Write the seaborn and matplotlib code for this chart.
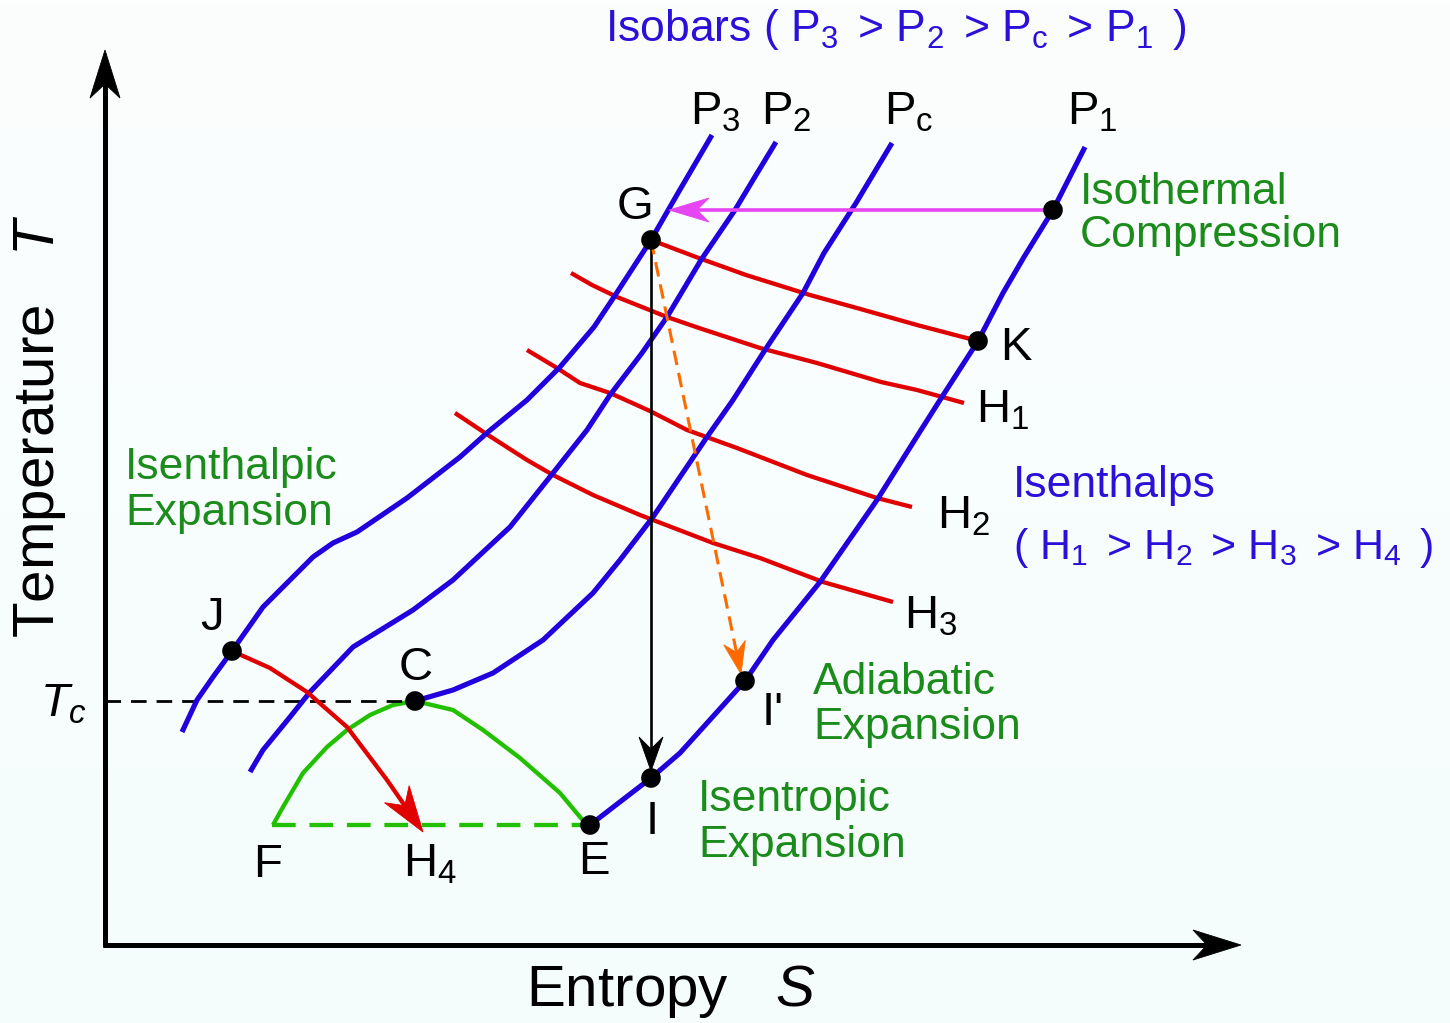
import numpy as np
import pandas as pd
import matplotlib
matplotlib.use("Agg")
import matplotlib.pyplot as plt
from matplotlib.patches import Polygon
from matplotlib.colors import LinearSegmentedColormap
import seaborn as sns

# ---------------------------------------------------------------
# T-S diagram data (entropy S, temperature T in diagram units)
# ---------------------------------------------------------------
# Isobars
P3_S = [182, 197, 213, 232, 263, 283, 313, 333, 357, 407, 460, 488, 527, 560, 594, 614, 651, 678, 712]
P3_T = [291, 323, 346, 372, 416, 436, 466, 480, 491, 525, 566, 591, 623, 656, 696, 726, 783, 830, 888]
P2_S = [250, 263, 290, 310, 353, 413, 453, 510, 553, 587, 610, 642, 667, 701, 735, 753, 776]
P2_T = [251, 273, 306, 331, 376, 413, 443, 496, 550, 593, 628, 670, 706, 763, 813, 843, 881]
PC_S = [415, 453, 493, 543, 593, 620, 653, 707, 733, 765, 803, 824, 856, 892]
PC_T = [322, 333, 350, 383, 430, 463, 506, 586, 623, 673, 730, 770, 820, 880]
P1_S = [590, 651, 680, 745, 773, 820, 877, 921, 940, 978, 1003, 1024, 1053, 1085]
P1_T = [198, 245, 270, 342, 383, 441, 523, 593, 623, 682, 730, 766, 813, 876]

# Isenthalps
HG_S = [651, 696, 746, 810, 864, 917, 978]
HG_T = [783, 766, 748, 728, 713, 698, 682]
H1_S = [571, 592, 617, 667, 699, 760, 817, 881, 917, 964]
H1_T = [750, 738, 726, 706, 695, 675, 660, 641, 633, 620]
H2_S = [527, 557, 580, 610, 650, 687, 737, 807, 877, 912]
H2_T = [673, 655, 640, 630, 612, 593, 575, 548, 525, 516]
H3_S = [455, 488, 527, 553, 593, 640, 713, 760, 823, 893]
H3_T = [610, 588, 563, 548, 528, 508, 480, 465, 441, 421]

# Isenthalpic expansion J -> H4
JH4_S = [232, 270, 307, 347, 387, 423]
JH4_T = [372, 355, 331, 296, 243, 191]

# Two-phase dome (F -> C -> E)
DOME_S = [273, 283, 303, 327, 347, 370, 393, 415, 453, 483, 520, 560, 585]
DOME_T = [198, 216, 250, 276, 293, 308, 318, 322, 313, 293, 265, 230, 200]

# Tie line F-E and critical temperature
TIE_S = [272, 590]
TIE_T = [198, 198]
TC_S = [105, 415]
TC_T = [322, 322]

# State points
POINT_NAMES = ["G", "K", "A", "J", "C", "E", "I", "I'"]
POINT_S = [651, 978, 1053, 232, 415, 590, 651, 745]
POINT_T = [783, 682, 813, 372, 322, 198, 245, 342]

# Processes
ISOTHERMAL = [(1053, 813), (669, 813)]
ISENTROPIC = [(651, 783), (651, 252)]
ADIABATIC = [(651, 783), (741, 349)]

# Axes (origin, top of T axis, end of S axis)
ORIGIN = (105, 78)
T_TIP = (105, 973)
S_TIP = (1241, 78)

# ---------------------------------------------------------------
BLUE = "#2200dd"
BLUE_TEXT = "#2a10d8"
RED = "#e00000"
GREEN_LINE = "#22c000"
GREEN_TEXT = "#1b8c1b"
MAGENTA = "#e545f2"
ORANGE = "#ff6a00"

sns.set_style("white")
plt.rcParams["font.family"] = ["Liberation Sans", "DejaVu Sans"]
plt.rcParams["text.color"] = "black"
plt.rcParams["mathtext.fontset"] = "custom"
plt.rcParams["mathtext.rm"] = "Liberation Sans"
plt.rcParams["mathtext.it"] = "Liberation Sans:italic"
plt.rcParams["mathtext.bf"] = "Liberation Sans:bold"

fig = plt.figure(figsize=(14.5, 10.23), dpi=100)
ax = fig.add_axes([0, 0, 1, 1])

# pale background
bg = LinearSegmentedColormap.from_list("bg", ["#fcfefe", "#f4fdfc"])
ax.imshow(np.linspace(1, 0, 256)[:, None], extent=[0, 1450, 0, 1023], origin="lower",
          cmap=bg, aspect="auto", zorder=0)


def stealth_head(tail, tip, length, half_width, notch, color, z=4):
    tail = np.asarray(tail, float)
    tip = np.asarray(tip, float)
    d = tip - tail
    d /= np.hypot(*d)
    n = np.array([-d[1], d[0]])
    base = tip - d * length
    pts = [tip, base + n * half_width, tip - d * notch, base - n * half_width]
    ax.add_patch(Polygon(pts, closed=True, fc=color, ec=color, lw=0.6, zorder=z))
    return tip - d * notch


def curve(s, t, color, lw, z=2, dashes=None):
    sns.lineplot(x=s, y=t, sort=False, estimator=None, color=color, linewidth=lw,
                 ax=ax, zorder=z, solid_capstyle="butt", dash_capstyle="butt",
                 solid_joinstyle="round")
    if dashes is not None:
        ax.lines[-1].set_dashes(dashes)


# isobars
iso = pd.concat([
    pd.DataFrame({"S": P3_S, "T": P3_T, "curve": "P3"}),
    pd.DataFrame({"S": P2_S, "T": P2_T, "curve": "P2"}),
    pd.DataFrame({"S": PC_S, "T": PC_T, "curve": "Pc"}),
    pd.DataFrame({"S": P1_S, "T": P1_T, "curve": "P1"}),
])
sns.lineplot(data=iso, x="S", y="T", units="curve", estimator=None, sort=False,
             color=BLUE, linewidth=3.7, ax=ax, zorder=3, solid_capstyle="butt",
             solid_joinstyle="round")

# isenthalps
ent = pd.concat([
    pd.DataFrame({"S": HG_S, "T": HG_T, "curve": "HG"}),
    pd.DataFrame({"S": H1_S, "T": H1_T, "curve": "H1"}),
    pd.DataFrame({"S": H2_S, "T": H2_T, "curve": "H2"}),
    pd.DataFrame({"S": H3_S, "T": H3_T, "curve": "H3"}),
])
sns.lineplot(data=ent, x="S", y="T", units="curve", estimator=None, sort=False,
             color=RED, linewidth=3.1, ax=ax, zorder=2, solid_capstyle="butt",
             solid_joinstyle="round")

# dome, tie line, Tc
curve(DOME_S, DOME_T, GREEN_LINE, 3.1, z=2)
curve(TIE_S, TIE_T, GREEN_LINE, 3.1, z=2, dashes=[5.5, 3.2])
curve(TC_S, TC_T, "black", 2.0, z=2, dashes=[5.6, 3.6])

# isenthalpic expansion arrow J -> H4
nj = stealth_head((JH4_S[-2], JH4_T[-2]), (JH4_S[-1], JH4_T[-1]), 46, 15, 32, RED, z=4)
curve(JH4_S[:-1] + [nj[0]], JH4_T[:-1] + [nj[1]], RED, 3.1, z=4)

# isothermal compression
n = stealth_head(ISOTHERMAL[0], ISOTHERMAL[1], 40, 12, 28, MAGENTA, z=4)
curve([ISOTHERMAL[0][0], n[0]], [ISOTHERMAL[0][1], n[1]], MAGENTA, 2.6, z=4)

# isentropic expansion
n = stealth_head(ISENTROPIC[0], ISENTROPIC[1], 34, 12, 22, "black", z=4)
curve([ISENTROPIC[0][0], n[0]], [ISENTROPIC[0][1], n[1]], "black", 1.9, z=4)

# adiabatic expansion
n = stealth_head(ADIABATIC[0], ADIABATIC[1], 32, 11, 22, ORANGE, z=4)
curve([ADIABATIC[0][0], n[0]], [ADIABATIC[0][1], n[1]], ORANGE, 2.2, z=4, dashes=[4.8, 2.6])

# coordinate axes
n = stealth_head(ORIGIN, T_TIP, 48, 15, 34, "black", z=5)
curve([ORIGIN[0], n[0]], [ORIGIN[1] - 2, n[1]], "black", 3.6, z=5)
n = stealth_head(ORIGIN, S_TIP, 48, 15, 34, "black", z=5)
curve([ORIGIN[0] - 2, n[0]], [ORIGIN[1], n[1]], "black", 3.6, z=5)

# state points
sns.scatterplot(x=POINT_S, y=POINT_T, s=200, color="black", edgecolor="none",
                ax=ax, zorder=6, legend=False)

# ---------------------------------------------------------------
# text
LBL = 34
ax.text(605, 993, r"Isobars ( P$_3\,$ > P$_2\,$ > P$_\mathrm{c}\,$ > P$_1\,$ )", color=BLUE_TEXT,
        fontsize=32, ha="left", va="center")
for x, s in [(715, r"P$_3$"), (786, r"P$_2$"), (909, r"P$_\mathrm{c}$"), (1092, r"P$_1$")]:
    ax.text(x, 911, s, fontsize=LBL, ha="center", va="center")

for x, y, s in [(635, 816, "G"), (1016, 675, "K"), (1003, 613, r"H$_1$"),
                (964, 506, r"H$_2$"), (931, 406, r"H$_3$"), (212, 405, "J"),
                (416, 355, "C"), (268, 158, "F"), (430, 158, r"H$_4$"),
                (594, 161, "E"), (652, 201, "I"), (773, 310, "I'")]:
    ax.text(x, y, s, fontsize=LBL, ha="center", va="center")

ax.text(63, 318, r"$T_c$", fontsize=LBL, ha="center", va="center")

GT = 32
for x, y, s in [(1080, 831, "Isothermal"), (1080, 787, "Compression"),
                (125, 556, "Isenthalpic"), (125, 510, "Expansion"),
                (813, 340, "Adiabatic"), (813, 295, "Expansion"),
                (698, 224, "Isentropic"), (698, 178, "Expansion")]:
    ax.text(x, y, s, fontsize=GT, color=GREEN_TEXT, ha="left", va="center")

ax.text(1013, 537, "Isenthalps", fontsize=GT, color=BLUE_TEXT, ha="left", va="center")
ax.text(1013, 475, r"( H$_1\,$ > H$_2\,$ > H$_3\,$ > H$_4\,$ )", fontsize=31, color=BLUE_TEXT,
        ha="left", va="center")

ax.text(40, 597, r"Temperature   $T$", fontsize=42, rotation=90, ha="center", va="center")
ax.text(671, 31, r"Entropy   $S$", fontsize=42, ha="center", va="center")

ax.set_xlim(0, 1450)
ax.set_ylim(0, 1023)
ax.set_axis_off()

fig.savefig("out.png", dpi=100)
